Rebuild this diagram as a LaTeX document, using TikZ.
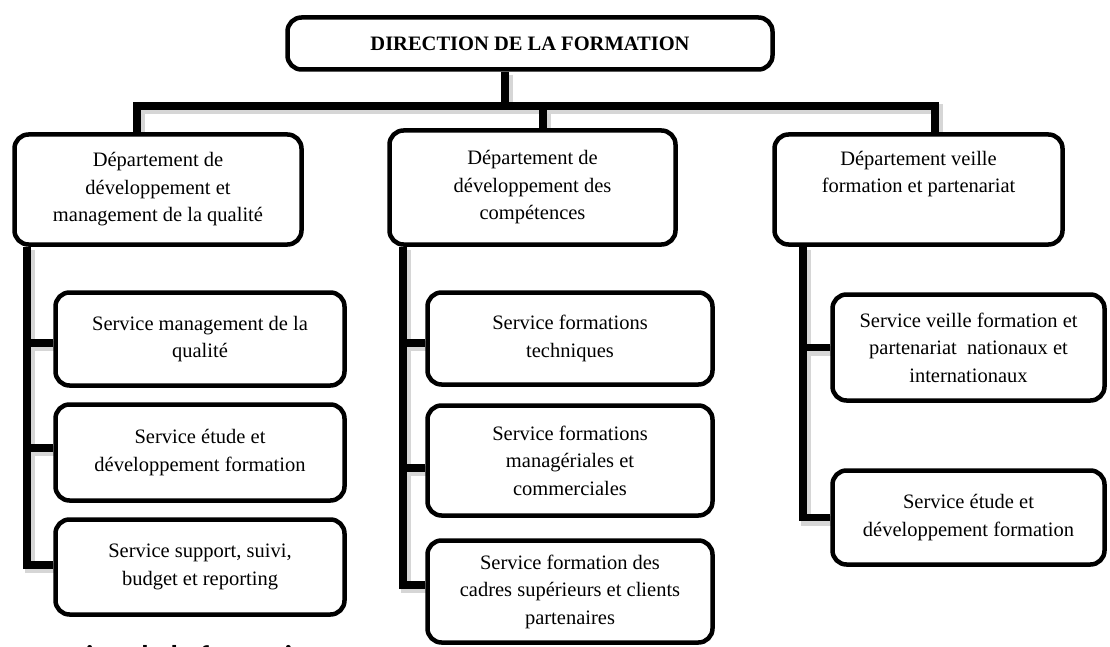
\documentclass[tikz,border=0pt]{standalone}
\usepackage{fontspec}
\setmainfont{Liberation Serif}
\newfontfamily\capfont{Carlito}
\usetikzlibrary{backgrounds}

% connector paths, drawn once for the soft shadow and once in black
\newcommand\orgwires[1]{%
  \draw[#1] ([xshift=-25pt]top.south) -- (hub);
  \draw[#1] (d1top) |- (hub) -| (d3top);
  \draw[#1] (hub -| d2top) -- (d2top);
  % left column
  \draw[#1] (d1.south -| sx1) |- (t13);
  \draw[#1] (t11 -| sx1) -- (t11);
  \draw[#1] (t12 -| sx1) -- (t12);
  % middle column
  \draw[#1] (d2.south -| sx2) |- (t23);
  \draw[#1] (t21 -| sx2) -- (t21);
  \draw[#1] (t22 -| sx2) -- (t22);
  % right column
  \draw[#1] (d3.south -| sx3) |- (t32);
  \draw[#1] (t31 -| sx3) -- (t31);
}

\begin{document}
\begin{tikzpicture}[x=1pt,y=-1pt,
  box/.style={draw=black, line width=4.5pt, rounded corners=14pt, fill=white,
    inner sep=0pt, align=center, font=\fontsize{20.5}{27.5}\selectfont},
  wire/.style={draw=black, line width=7.5pt, line join=miter},
  wireshadow/.style={draw=black!16, line width=10pt, line join=miter,
    transform canvas={xshift=2.5pt,yshift=-3pt}}]

\useasboundingbox (0,0) rectangle (1110,647);
\clip (0,0) rectangle (1110,647);

% head of the organisation
\node[box, minimum width=485pt, minimum height=52pt, font=\fontsize{20.5}{27.5}\selectfont\bfseries]
  (top) at (530,43.5) {DIRECTION DE LA FORMATION};

% departments
\node[box, minimum width=287pt, minimum height=110pt] (d1) at (158,189.5)
  {Département de\\développement et\\management de la qualité};
\node[box, minimum width=286pt, minimum height=114pt] (d2) at (532.5,187.5)
  {Département de\\développement des\\compétences};
\node[box, minimum width=288pt, minimum height=110pt] (d3) at (918.5,189.5)
  {Département veille\\formation et partenariat\\\strut};

% services of the first department
\node[box, minimum width=289pt, minimum height=93pt] (s11) at (200,339)
  {Service management de la\\qualité};
\node[box, minimum width=289pt, minimum height=96pt] (s12) at (200,452.5)
  {Service étude et\\développement formation};
\node[box, minimum width=289pt, minimum height=95pt] (s13) at (200,567)
  {Service support, suivi,\\budget et reporting};

% services of the second department
\node[box, minimum width=285pt, minimum height=92pt] (s21) at (570,338.5)
  {Service formations\\techniques};
\node[box, minimum width=285pt, minimum height=110pt] (s22) at (570,460.5)
  {Service formations\\managériales et\\commerciales};
\node[box, minimum width=285pt, minimum height=102pt] (s23) at (570,591.5)
  {Service formation des\\cadres supérieurs et clients\\partenaires};

% services of the third department
\node[box, minimum width=272pt, minimum height=106pt] (s31) at (968.5,347.5)
  {Service veille formation et\\partenariat\ \ nationaux et\\internationaux};
\node[box, minimum width=272pt, minimum height=94pt] (s32) at (968.5,517.5)
  {Service étude et\\développement formation};

% caption, cut by the lower edge of the page
\node[anchor=base west, inner sep=0pt, font=\capfont\bfseries\fontsize{30}{36}\selectfont]
  (cap) at (86,666) {ion de la formation};

% junction points of the connectors
\coordinate (hub) at (505,106);
\coordinate (d1top) at ([xshift=-21pt]d1.north);
\coordinate (d2top) at ([xshift=10.5pt]d2.north);
\coordinate (d3top) at ([xshift=16.5pt]d3.north);
\coordinate (sx1) at (27,0);
\coordinate (sx2) at (403,0);
\coordinate (sx3) at (803,0);
\coordinate (t11) at ([yshift=-4pt]s11.west);
\coordinate (t12) at ([yshift=4.5pt]s12.west);
\coordinate (t13) at ([yshift=2pt]s13.west);
\coordinate (t21) at ([yshift=-4.5pt]s21.west);
\coordinate (t22) at ([yshift=-7.5pt]s22.west);
\coordinate (t23) at ([yshift=6.5pt]s23.west);
\coordinate (t31) at (s31.west);
\coordinate (t32) at (s32.west);

\begin{pgfonlayer}{background}
  \fill[white] (0,0) rectangle (1110,647);
  \orgwires{wireshadow}
  \orgwires{wire}
\end{pgfonlayer}
\end{tikzpicture}
\end{document}
